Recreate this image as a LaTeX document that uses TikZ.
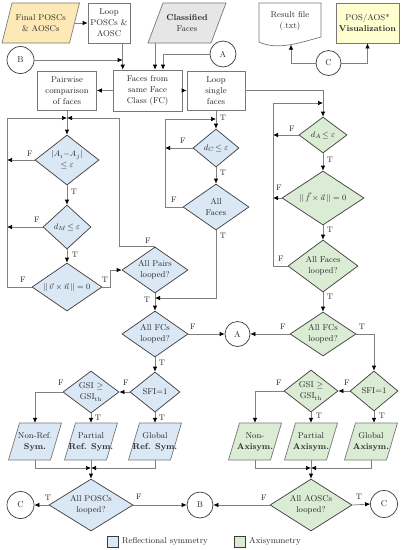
\documentclass[tikz,border=0pt]{standalone}
\usepackage{amsmath}
\usetikzlibrary{shapes.geometric,arrows.meta}
\definecolor{blueF}{RGB}{218,232,245}
\definecolor{greenF}{RGB}{218,236,212}
\definecolor{yellowF}{RGB}{252,233,182}
\definecolor{visF}{RGB}{255,255,208}
\definecolor{grayF}{RGB}{230,230,230}
\definecolor{linec}{RGB}{128,128,128}
\definecolor{boxc}{RGB}{120,120,120}
\definecolor{diac}{RGB}{60,60,60}
\definecolor{txtc}{RGB}{40,40,40}
\newcommand{\figfont}{\fontsize{8.5}{11}\selectfont}
\newcommand{\labfont}{\fontsize{8}{9}\selectfont}
\tikzset{
 txt/.style={align=center, font=\figfont, inner sep=0pt, text=txtc},
 box/.style={txt, draw=boxc, fill=white, line width=0.7pt, rectangle},
 dia/.style={txt, shape=diamond, draw=diac, line width=0.7pt, aspect=1.4},
 bdia/.style={dia, fill=blueF},
 gdia/.style={dia, fill=greenF},
 conn/.style={txt, circle, draw=diac, fill=white, line width=0.7pt},
 arr/.style={draw=linec, line width=0.7pt, -{Latex[length=5pt,width=4.5pt,color=black]}},
 ln/.style={draw=linec, line width=0.7pt},
 lab/.style={font=\labfont, text=txtc, inner sep=0pt},
}
% name, x, y, half width, half height, half slant, fill, text
\newcommand{\pgram}[8]{%
 \filldraw[draw=boxc, fill=#7, line width=0.7pt] ({#2-#4-#6},{#3+#5}) -- ({#2+#4-#6},{#3+#5}) -- ({#2+#4+#6},{#3-#5}) -- ({#2-#4+#6},{#3-#5}) -- cycle;
 \node[txt, minimum width={2*#4}, minimum height={2*#5}] (#1) at (#2,#3) {#8};}
\begin{document}
\begin{tikzpicture}[x=1pt,y=-1pt]
\useasboundingbox (0,0) rectangle (403,550);
\fill[white] (0,0) rectangle (403,550);
% ---------- top row
\pgram{fin}{40.75}{23}{33.75}{20}{5}{yellowF}{Final POSCs\\\& AOSCs}
\node[box, minimum width=42, minimum height=40] (loopP) at (109,23) {Loop\\POSCs \&\\AOSC};
\pgram{cls}{187}{23}{31.5}{20}{7.5}{grayF}{\textbf{Classified}\\Faces}
\filldraw[draw=boxc, fill=white, line width=0.7pt] (259,42) -- (259,3) -- (321,3) -- (321,37) .. controls (302,42) and (278,51) .. (259,42) -- cycle;
\node[txt] (res) at (290,21) {Result file\\(.txt)};
\node[box, fill=visF, minimum width=63, minimum height=40] (vis) at (367.5,23) {POS/AOS*\\\textbf{Visualization}};
\node[conn, minimum size=27] (B1) at (20.5,60) {B};
\node[conn, minimum size=26] (A1) at (223,54) {A};
\node[conn, minimum size=25] (C1) at (328.5,63) {C};
\node[box, minimum width=59, minimum height=39] (pair) at (67,90.5) {Pairwise\\comparison\\of faces};
\node[box, minimum width=69, minimum height=41] (faces) at (147.5,90.5) {Faces from\\same Face\\Class (FC)};
\node[box, minimum width=58, minimum height=39] (single) at (216,90.5) {Loop\\single\\faces};
% ---------- blue diamonds
\node[bdia, minimum width=64, minimum height=50] (dAij) at (67,160) {$|A_i{-}A_j|$\\$\le\varepsilon$};
\node[bdia, minimum width=48, minimum height=44] (dM) at (67,227) {$d_M\!\le\varepsilon$};
\node[bdia, minimum width=70, minimum height=48] (dvn) at (67,287) {$\lVert\,\vec{v}\times\vec{n}\,\rVert=0$};
\node[bdia, minimum width=66, minimum height=46] (pairs) at (155,270) {All Pairs\\looped?};
\node[bdia, minimum width=66, minimum height=46] (fcs) at (155,334) {All FCs\\looped?};
\node[bdia, minimum width=50, minimum height=40] (sfi) at (155,392) {SFI=1};
\node[bdia, minimum width=56, minimum height=42] (gsi) at (91,392) {GSI $\ge$\\GSI$_{\mathrm{th}}$};
\node[bdia, minimum width=84, minimum height=52] (posc) at (91,505) {All POSCs\\looped?};
\node[bdia, minimum width=46, minimum height=38] (dc) at (216,148) {$d_C\!\le\varepsilon$};
\node[bdia, minimum width=66, minimum height=46] (af) at (216,207) {All\\Faces};
% ---------- green diamonds
\node[gdia, minimum width=48, minimum height=36] (dA) at (323,135) {$d_A\!\le\varepsilon$};
\node[gdia, minimum width=82, minimum height=54] (dfa) at (323,198) {$\lVert\,\vec{f}\times\vec{a}\,\rVert=0$};
\node[gdia, minimum width=70, minimum height=52] (afl) at (323,266) {All Faces\\looped?};
\node[gdia, minimum width=66, minimum height=44] (gfcs) at (323,334) {All FCs\\looped?};
\node[gdia, minimum width=48, minimum height=40] (gsfi) at (374,391) {SFI=1};
\node[gdia, minimum width=54, minimum height=42] (ggsi) at (311,391) {GSI $\ge$\\GSI$_{\mathrm{th}}$};
\node[gdia, minimum width=82, minimum height=52] (aosc) at (311,505) {All AOSCs\\looped?};
% ---------- circles
\node[conn, minimum size=25] (A2) at (237.5,334) {A};
\node[conn, minimum size=26] (B2) at (200,505) {B};
\node[conn, minimum size=27] (C2) at (20.5,505) {C};
\node[conn, minimum size=27] (C3) at (384,504) {C};
% ---------- outcome parallelograms
\pgram{nonref}{35}{441.5}{21}{18.5}{5.5}{blueF}{Non-Ref.\\\textbf{Sym.}}
\pgram{partial}{91}{441.5}{21}{18.5}{5.5}{blueF}{Partial\\\textbf{Ref. Sym.}}
\pgram{global}{155}{441.5}{21}{18.5}{5.5}{blueF}{Global\\\textbf{Ref. Sym.}}
\pgram{nonax}{255}{441.5}{21}{18.5}{5.5}{greenF}{Non-\\\textbf{Axisym.}}
\pgram{partax}{311}{441.5}{21}{18.5}{5.5}{greenF}{Partial\\\textbf{Axisym.}}
\pgram{globax}{371}{441.5}{21}{18.5}{5.5}{greenF}{Global\\\textbf{Axisym.}}
% ---------- coordinates
\coordinate (jB) at (122.7,60);
\coordinate (jCl) at (155,43);
\coordinate (jA) at (163,54);
\coordinate (resb) at (291,44.6);
\coordinate (jt1) at (67,118);
\coordinate (L1) at (7,118);
\coordinate (R2) at (119,118);
\coordinate (R1) at (110,270);
\coordinate (jm) at (216,119);
\coordinate (Lm) at (165,119);
\coordinate (J) at (155,298);
\coordinate (jb1) at (91,468);
\coordinate (jg) at (323,103);
\coordinate (Lg) at (273,103);
\coordinate (jb2) at (311,468);
% ---------- top connectors
\draw[arr] (fin.east) -- (loopP.west);
\draw[ln] (jB |- loopP.south) -- (jB);
\draw[arr] (jB) -- (jB |- faces.north);
\draw[arr] (B1.east) -- (jB);
\draw[arr] (jCl) -- (jCl |- faces.north);
\draw[arr] (A1.west) -- (jA) -- (jA |- faces.north);
\draw[arr] (faces.west) -- (pair.east);
\draw[arr] (faces.east) -- (single.west);
\draw[arr] (C1.west) -| (resb);
\draw[arr] (C1.east) -| (vis.south);
% ---------- blue left loop
\draw[ln] (pair.south) -- (jt1);
\draw[arr] (jt1) -- (dAij.north);
\draw[arr] (dAij.west) -- (dAij.west -| L1);
\draw[arr] (dAij.south) -- (dM.north);
\draw[arr] (dM.west) -- (dM.west -| L1);
\draw[arr] (dM.south) -- (dvn.north);
\draw[arr] (dvn.west) -- (dvn.west -| L1) -- (L1) -- (jt1);
\draw[arr] (dvn.east) -- (dvn.east -| R1) -- (R1) -- (pairs.west);
\draw[arr] (pairs.north) -- (pairs.north -| R2) -- (R2) -- (jt1);
% ---------- blue middle
\draw[ln] (single.south) -- (jm);
\draw[arr] (jm) -- (dc.north);
\draw[arr] (dc.west) -- (dc.west -| Lm);
\draw[arr] (dc.south) -- (af.north);
\draw[arr] (af.west) -- (af.west -| Lm) -- (Lm) -- (jm);
\draw[arr] (af.south) |- (J);
\draw[arr] (pairs.south) -- (fcs.north);
\draw[arr] (fcs.east) -- (A2.west);
\draw[arr] (fcs.south) -- (sfi.north);
\draw[arr] (sfi.west) -- (gsi.east);
\draw[arr] (gsi.west) -| (nonref.north);
\draw[arr] (gsi.south) -- (partial.north);
\draw[arr] (sfi.south) -- (global.north);
\draw[arr] (nonref.south) |- (jb1);
\draw[arr] (global.south) |- (jb1);
\draw[ln] (partial.south) -- (jb1);
\draw[arr] (jb1) -- (posc.north);
\draw[arr] (posc.west) -- (C2.east);
\draw[arr] (posc.east) -- (B2.west);
% ---------- green
\draw[ln] (single.east) -| (jg);
\draw[arr] (jg) -- (dA.north);
\draw[arr] (dA.west) -- (dA.west -| Lg);
\draw[arr] (dA.south) -- (dfa.north);
\draw[arr] (dfa.west) -- (dfa.west -| Lg);
\draw[arr] (dfa.south) -- (afl.north);
\draw[arr] (afl.west) -- (afl.west -| Lg) -- (Lg) -- (jg);
\draw[arr] (afl.south) -- (gfcs.north);
\draw[arr] (gfcs.west) -- (A2.east);
\draw[arr] (gfcs.east) -| (gsfi.north);
\draw[arr] (gsfi.west) -- (ggsi.east);
\draw[arr] (ggsi.west) -| (nonax.north);
\draw[arr] (ggsi.south) -- (partax.north);
\draw[arr] (gsfi.south) -- (gsfi.south |- globax.north);
\draw[arr] (nonax.south) |- (jb2);
\draw[arr] (globax.south) |- (jb2);
\draw[ln] (partax.south) -- (jb2);
\draw[arr] (jb2) -- (aosc.north);
\draw[arr] (aosc.west) -- (B2.east);
\draw[arr] (aosc.east) -- (C3.west);
% ---------- T/F labels
\node[lab] (l1) at (30,154) {F};
\node[lab] (l2) at (74,192) {T};
\node[lab] (l3) at (37,220) {F};
\node[lab] (l4) at (75,255) {T};
\node[lab] (l5) at (23,280) {F};
\node[lab] (l6) at (105,280) {T};
\node[lab] (l7) at (148,241) {F};
\node[lab] (l8) at (147,300) {T};
\node[lab] (l9) at (193,327) {F};
\node[lab] (l10) at (162,363) {T};
\node[lab] (l11) at (126,383) {F};
\node[lab] (l12) at (61,383) {F};
\node[lab] (l13) at (98,418) {T};
\node[lab] (l14) at (162,418) {T};
\node[lab] (l15) at (48,498) {T};
\node[lab] (l16) at (139,497) {F};
\node[lab] (l17) at (223,118) {T};
\node[lab] (l18) at (183,141) {F};
\node[lab] (l19) at (223,173) {T};
\node[lab] (l20) at (174,200) {F};
\node[lab] (l21) at (223,236) {T};
\node[lab] (l22) at (292,129) {F};
\node[lab] (l23) at (330,160) {T};
\node[lab] (l24) at (279,188) {F};
\node[lab] (l25) at (330,230) {T};
\node[lab] (l26) at (281,259) {F};
\node[lab] (l27) at (330,297) {T};
\node[lab] (l28) at (283,327) {F};
\node[lab] (l29) at (362,327) {T};
\node[lab] (l30) at (347,383) {F};
\node[lab] (l31) at (279,383) {F};
\node[lab] (l32) at (319,416) {T};
\node[lab] (l33) at (382,416) {T};
\node[lab] (l34) at (264,498) {F};
\node[lab] (l35) at (359,497) {T};
% ---------- legend
\node[draw=diac, fill=blueF, minimum size=11, inner sep=0pt, line width=0.6pt] (legb) at (112.5,541.5) {};
\node[txt, anchor=west] (legbt) at (122,541.5) {Reflectional symmetry};
\node[draw=diac, fill=greenF, minimum size=11, inner sep=0pt, line width=0.6pt] (legg) at (240,541.5) {};
\node[txt, anchor=west] (leggt) at (249,541.5) {Axisymmetry};
\end{tikzpicture}
\end{document}
